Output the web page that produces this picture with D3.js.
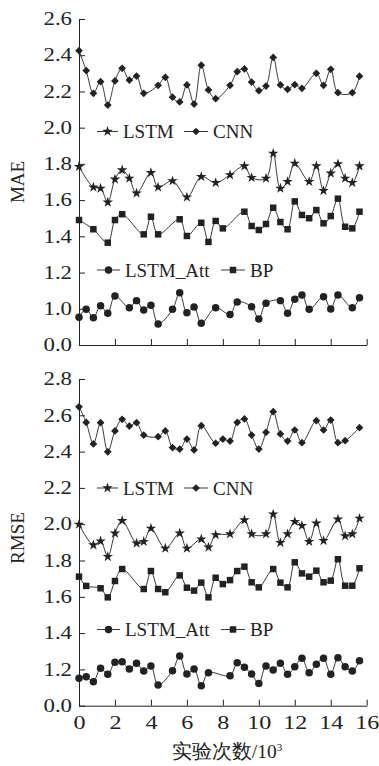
<!DOCTYPE html>
<html>
<head>
<meta charset="utf-8">
<script src="https://cdn.jsdelivr.net/npm/d3@7"></script>
<style>
  html, body { margin: 0; padding: 0; background: #fff; }
  svg { display: block; }
  text { font-family: "Liberation Serif", "DejaVu Serif", serif; fill: #222; }
</style>
</head>
<body>
<div id="chart"></div>
<script>
// x positions of the experiments (unit: 10^3 runs)
const runs = [0, 0.4, 0.8, 1.2, 1.6, 2.0, 2.4, 2.8, 3.2, 3.6, 4.0, 4.4, 4.8, 5.2, 5.6, 6.0, 6.4, 6.8, 7.2, 7.6,
  8.0, 8.4, 8.8, 9.2, 9.6, 10.0, 10.4, 10.8, 11.2, 11.6, 12.0, 12.4, 12.8, 13.2, 13.6, 14.0, 14.4, 14.8, 15.2, 15.6];
const xTicks = [0, 2, 4, 6, 8, 10, 12, 14, 16];

// MAE (null = no marker at that run)
const maeCnn = [2.425, 2.315, 2.19, 2.254, 2.125, 2.258, 2.328, 2.263, 2.285, 2.19, null, 2.234, 2.278, 2.168, 2.142, 2.236, 2.13, 2.345, 2.208, 2.16,
  null, 2.234, 2.309, 2.324, 2.252, 2.204, 2.23, 2.388, 2.236, 2.212, 2.237, 2.217, null, 2.30, 2.234, 2.322, 2.193, null, 2.193, 2.284];
const maeLstm = [1.785, null, 1.671, 1.665, 1.588, 1.715, 1.766, 1.72, 1.638, null, 1.751, 1.671, null, 1.706, null, 1.616, null, 1.729, null, 1.696,
  null, 1.739, null, 1.788, 1.724, null, 1.72, 1.858, 1.665, 1.702, 1.803, null, 1.702, 1.788, 1.652, 1.748, 1.80, 1.72, 1.696, 1.788];
const maeBp = [1.49, null, 1.439, null, 1.365, 1.49, 1.522, null, null, 1.411, 1.508, 1.411, null, null, 1.494, 1.402, null, 1.475, 1.369, 1.485,
  1.444, null, null, 1.536, 1.457, 1.435, 1.468, 1.558, 1.479, 1.439, 1.593, 1.518, 1.50, 1.545, 1.472, 1.512, 1.608, 1.453, 1.444, 1.536];
const maeAtt = [0.953, 0.997, 0.951, 1.017, 0.975, 1.071, null, 1.006, 1.045, 0.993, 1.019, 0.916, null, 0.997, 1.089, 0.978, 1.010, 0.920, null, 1.006,
  null, 0.968, 1.038, null, 1.011, 0.944, 1.030, null, 1.045, 0.975, 1.052, 1.076, 0.997, null, 1.067, 0.999, 1.076, null, 1.006, 1.061];

// RMSE
const rmseCnn = [2.647, 2.561, 2.442, 2.559, 2.399, 2.514, 2.578, 2.541, 2.559, 2.491, null, 2.482, 2.514, 2.422, 2.414, 2.469, 2.409, 2.543, null, 2.446,
  2.469, 2.458, 2.561, 2.58, 2.491, 2.414, 2.506, 2.620, 2.497, 2.458, 2.519, 2.449, null, 2.570, 2.519, 2.574, 2.449, 2.46, null, 2.532];
const rmseLstm = [1.999, null, 1.885, 1.907, 1.821, 1.95, 2.019, null, 1.895, 1.904, 1.977, null, 1.867, null, 1.95, 1.867, null, 1.918, 1.873, 1.941,
  null, 1.946, null, 2.023, 1.946, null, 1.946, 2.055, 1.898, 1.946, 2.014, 1.992, 1.904, 2.005, 1.909, null, 2.027, 1.935, 1.946, 2.032];
const rmseBp = [1.711, 1.66, null, 1.647, 1.597, 1.687, 1.753, null, null, 1.643, 1.742, 1.643, 1.625, null, 1.718, 1.65, 1.634, 1.678, 1.597, 1.705,
  1.67, 1.692, 1.742, 1.766, 1.68, 1.652, null, 1.753, 1.678, 1.652, 1.79, 1.729, 1.711, 1.744, 1.68, 1.689, 1.807, 1.661, 1.661, 1.757];
const rmseAtt = [1.151, 1.16, 1.132, 1.206, 1.173, 1.239, 1.242, 1.202, 1.234, 1.191, 1.219, 1.114, null, 1.193, 1.274, 1.175, 1.202, 1.11, 1.182, null,
  null, 1.165, 1.237, 1.212, 1.175, 1.123, 1.219, 1.197, 1.234, 1.173, 1.215, 1.261, 1.182, 1.228, 1.261, 1.173, 1.264, 1.215, 1.191, 1.248];

// y axes have a break: the lowest tick is labelled 0.0
const maeTicks = [0.8, 1.0, 1.2, 1.4, 1.6, 1.8, 2.0, 2.2, 2.4, 2.6];
const maeTickLabels = ["0.0", "1.0", "1.2", "1.4", "1.6", "1.8", "2.0", "2.2", "2.4", "2.6"];
const rmseTicks = [1.0, 1.2, 1.4, 1.6, 1.8, 2.0, 2.2, 2.4, 2.6, 2.8];
const rmseTickLabels = ["0.0", "1.2", "1.4", "1.6", "1.8", "2.0", "2.2", "2.4", "2.6", "2.8"];

const width = 379, height = 766;
const ink = "#222";

const svg = d3.select("#chart").append("svg")
  .attr("width", width)
  .attr("height", height)
  .attr("viewBox", [0, 0, width, height]);

const x = d3.scaleLinear().domain([0, 16]).range([79, 366.7]);

const shapes = {
  star: { type: d3.symbolStar, size: 34, rot: 0 },
  diamond: { type: d3.symbolSquare, size: 30, rot: 45 },
  circle: { type: d3.symbolCircle, size: 44, rot: 0 },
  square: { type: d3.symbolSquare, size: 42, rot: 0 }
};

function marker(g, shape, px, py) {
  const s = shapes[shape];
  g.append("path")
    .attr("d", d3.symbol(s.type, s.size)())
    .attr("transform", `translate(${px},${py}) rotate(${s.rot})`)
    .attr("fill", ink);
}

function drawPanel(p) {
  const y = d3.scaleLinear()
    .domain([p.ticks[0], p.ticks[p.ticks.length - 1]])
    .range([p.bottom, p.top]);

  const g = svg.append("g");

  // series
  p.series.forEach(s => {
    const pts = runs.map((r, i) => [r, s.values[i]]).filter(d => d[1] != null);
    g.append("path")
      .datum(pts)
      .attr("fill", "none")
      .attr("stroke", ink)
      .attr("stroke-width", 0.9)
      .attr("d", d3.line()
        .x(d => x(d[0]))
        .y(d => y(d[1]))
        .curve(d3.curveCatmullRom.alpha(0.5)));
    pts.forEach(d => marker(g, s.shape, x(d[0]), y(d[1])));
  });

  // axes
  const yAxis = g.append("g")
    .attr("transform", `translate(${x(0)},0)`)
    .call(d3.axisLeft(y)
      .tickValues(p.ticks)
      .tickFormat((d, i) => p.labels[i])
      .tickSizeInner(-6)
      .tickSizeOuter(0)
      .tickPadding(5.5));
  yAxis.selectAll("text")
    .attr("font-size", 18)
    .attr("font-family", "Liberation Serif, serif")
    .attr("fill", ink)
    .attr("transform", "scale(1.27,1)");

  const xAxis = g.append("g")
    .attr("transform", `translate(0,${p.bottom})`)
    .call(d3.axisBottom(x)
      .tickValues(xTicks)
      .tickFormat(p.xLabels ? d3.format("d") : "")
      .tickSizeInner(-6)
      .tickSizeOuter(0)
      .tickPadding(10));
  xAxis.selectAll("text")
    .attr("font-size", 19)
    .attr("font-family", "Liberation Serif, serif")
    .attr("fill", ink)
    .attr("transform", "scale(1.27,1)");

  [yAxis, xAxis].forEach(a => {
    a.select(".domain").attr("stroke", ink).attr("stroke-width", 1);
    a.selectAll(".tick line").attr("stroke", ink).attr("stroke-width", 1);
  });

  // y title
  g.append("text")
    .attr("transform", `translate(24,${p.titleY}) rotate(-90)`)
    .attr("text-anchor", "middle")
    .attr("font-size", 19)
    .text(p.title);

  // legends
  p.legends.forEach(row => {
    row.items.forEach(it => {
      g.append("line")
        .attr("x1", it.x0).attr("x2", it.x1)
        .attr("y1", row.y).attr("y2", row.y)
        .attr("stroke", ink).attr("stroke-width", 0.9);
      marker(g, it.shape, (it.x0 + it.x1) / 2, row.y);
      g.append("text")
        .attr("x", it.x1 + 5)
        .attr("y", row.y)
        .attr("dy", "0.35em")
        .attr("font-size", 19)
        .text(it.name);
    });
  });
}

drawPanel({
  top: 19, bottom: 345,
  ticks: maeTicks, labels: maeTickLabels,
  title: "MAE", titleY: 182,
  xLabels: false,
  series: [
    { values: maeCnn, shape: "diamond" },
    { values: maeLstm, shape: "star" },
    { values: maeBp, shape: "square" },
    { values: maeAtt, shape: "circle" }
  ],
  legends: [
    { y: 131.5, items: [{ name: "LSTM", shape: "star", x0: 97, x1: 118 }, { name: "CNN", shape: "diamond", x0: 184, x1: 208 }] },
    { y: 270, items: [{ name: "LSTM_Att", shape: "circle", x0: 97, x1: 120 }, { name: "BP", shape: "square", x0: 221, x1: 245 }] }
  ]
});

drawPanel({
  top: 379, bottom: 705.7,
  ticks: rmseTicks, labels: rmseTickLabels,
  title: "RMSE", titleY: 538,
  xLabels: true,
  series: [
    { values: rmseCnn, shape: "diamond" },
    { values: rmseLstm, shape: "star" },
    { values: rmseBp, shape: "square" },
    { values: rmseAtt, shape: "circle" }
  ],
  legends: [
    { y: 488, items: [{ name: "LSTM", shape: "star", x0: 97, x1: 118 }, { name: "CNN", shape: "diamond", x0: 184, x1: 208 }] },
    { y: 629.5, items: [{ name: "LSTM_Att", shape: "circle", x0: 97, x1: 120 }, { name: "BP", shape: "square", x0: 221, x1: 245 }] }
  ]
});

// x title
const xt = svg.append("text")
  .attr("x", 227)
  .attr("y", 758)
  .attr("text-anchor", "middle")
  .attr("font-size", 19.5)
  .attr("font-family", "Noto Sans CJK SC, Liberation Serif, serif");
xt.append("tspan").text("实验次数/10");
xt.append("tspan").attr("dy", -7).attr("font-size", 11).text("3");
</script>
</body>
</html>
